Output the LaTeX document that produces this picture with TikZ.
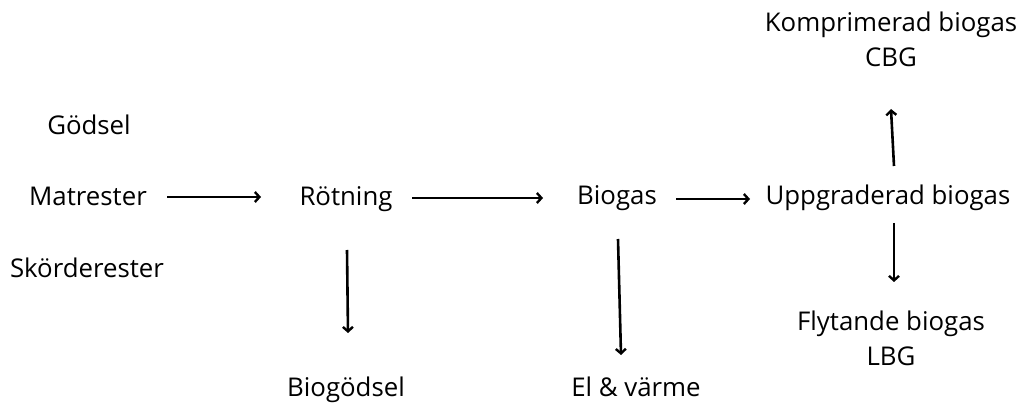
\documentclass[tikz,border=0pt]{standalone}
\usepackage{fontspec}
\setmainfont{Open Sans}
\usetikzlibrary{arrows.meta}
\begin{document}
\begin{tikzpicture}[x=1pt,y=-1pt,
  lbl/.style={anchor=base,inner sep=0pt,font=\fontsize{25.8}{31}\selectfont},
  arr/.style={line width=2.6pt,-{Straight Barb[length=4.5pt,width=10pt,line width=2.4pt]}}]
\useasboundingbox (0,0) rectangle (1025,403);
\node[lbl] (godsel) at (89,135) {Gödsel};
\node[lbl] (matrester) at (88,206) {Matrester};
\node[lbl] (skord) at (87,277) {Skörderester};
\node[lbl] (rotning) at (346,206) {Rötning};
\node[lbl] (biogas) at (617,205) {Biogas};
\node[lbl] (uppg) at (888,205) {Uppgraderad biogas};
\node[lbl] (kompr) at (891,32) {Komprimerad biogas};
\node[lbl] (cbg) at (891,67) {CBG};
\node[lbl] (flyt) at (891,330) {Flytande biogas};
\node[lbl] (lbg) at (891,365) {LBG};
\node[lbl] (biogodsel) at (346,396) {Biogödsel};
\node[lbl] (el) at (636,396) {El \& värme};
\coordinate (a1s) at (167,197); \coordinate (a1e) at (261,197);
\coordinate (a2s) at (412,198); \coordinate (a2e) at (543,198);
\coordinate (a3s) at (676,199); \coordinate (a3e) at (750,199);
\coordinate (a4s) at (894,166); \coordinate (a4e) at (891,109);
\coordinate (a5s) at (894,223); \coordinate (a5e) at (894,282);
\coordinate (a6s) at (347,250); \coordinate (a6e) at (348,333);
\coordinate (a7s) at (618,239); \coordinate (a7e) at (621,355);
\draw[arr] (a1s) -- (a1e);
\draw[arr] (a2s) -- (a2e);
\draw[arr] (a3s) -- (a3e);
\draw[arr] (a4s) -- (a4e);
\draw[arr] (a5s) -- (a5e);
\draw[arr] (a6s) -- (a6e);
\draw[arr] (a7s) -- (a7e);
\end{tikzpicture}
\end{document}
